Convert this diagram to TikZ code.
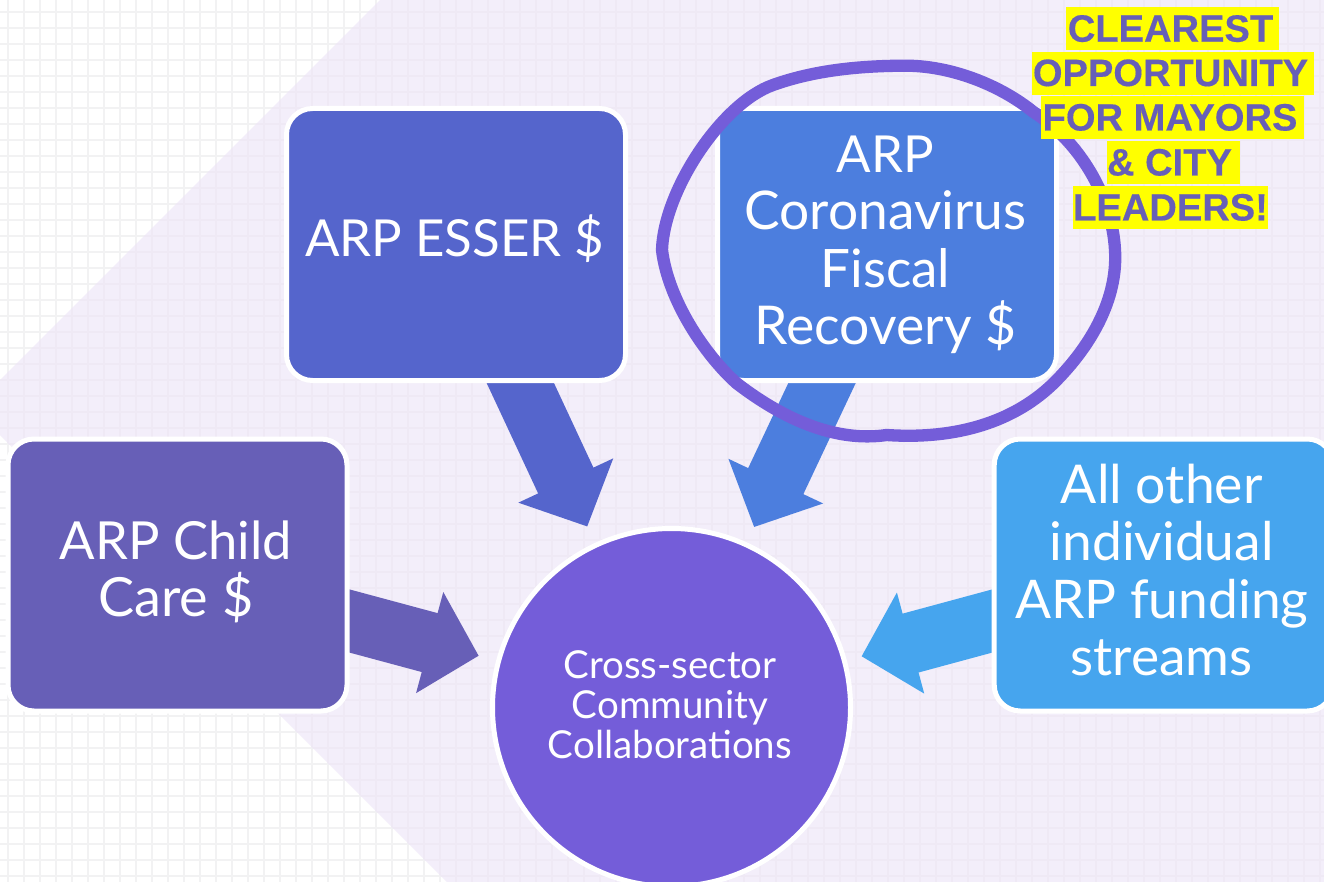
\documentclass[tikz,border=0pt]{standalone}
\usepackage{fontspec}
\setmainfont{Lato}
\newfontfamily\hlfont{Liberation Sans}[BoldFont={Liberation Sans Bold},BoldFeatures={FakeBold=0.3}]
\usetikzlibrary{arrows.meta,calc}
\definecolor{cChild}{HTML}{675FB7}
\definecolor{cEsser}{HTML}{5565CC}
\definecolor{cFiscal}{HTML}{4C7EDE}
\definecolor{cOther}{HTML}{46A5EE}
\definecolor{cHub}{HTML}{745DD9}
\definecolor{cLav}{HTML}{F3EEFA}
\definecolor{cGridA}{HTML}{F2F2F3}
\definecolor{cGridB}{HTML}{EFE9F5}
\definecolor{cHigh}{HTML}{FFFF00}
\pgfdeclarelayer{paper}
\pgfdeclarelayer{flows}
\pgfsetlayers{paper,flows,main}
\newcommand\fs[2]{{\fontsize{#1}{57.5}\selectfont #2}}
\tikzset{
  fundbox/.style={rectangle,draw=white,line width=5pt,rounded corners=26pt,minimum width=339pt,minimum height=272pt,inner sep=0pt,text=white,align=center,font=\fontsize{51}{57.5}\selectfont},
  hubnode/.style={circle,draw=white,line width=5pt,minimum size=358pt,inner sep=0pt,fill=cHub,text=white,align=center,font=\fontsize{38.5}{40}\selectfont},
  flow/.style={line width=61pt,line cap=butt,-{Triangle[length=50.8pt,width=101.7pt]},shorten >=18.1pt,shorten <=-30pt},
  hl/.style={anchor=base,fill=cHigh,text=cChild,inner ysep=0pt,inner xsep=0pt,text height=34.4pt,text depth=8.6pt,font=\hlfont\bfseries\fontsize{38.1}{43}\selectfont},
}
\begin{document}
\begin{tikzpicture}[x=1pt,y=-1pt]
\useasboundingbox (0,0) rectangle (1324,882);
\begin{pgfonlayer}{paper}
\fill[white] (0,0) rectangle (1324,882);
\foreach \k in {0,...,82} \draw[cGridA,line width=2pt] ({8+16*\k},0) -- ({8+16*\k},882);
\foreach \k in {0,...,54} \draw[cGridA,line width=2pt] (0,{12+16*\k}) -- (1324,{12+16*\k});
\begin{scope}
  \clip (380,0) -- (1324,0) -- (1324,882) -- (447,882) -- (0,435) -- (0,380) -- cycle;
  \fill[cLav] (0,0) rectangle (1324,882);
  \foreach \k in {0,...,82} \draw[cGridB,line width=2pt] ({8+16*\k},0) -- ({8+16*\k},882);
  \foreach \k in {0,...,54} \draw[cGridB,line width=2pt] (0,{12+16*\k}) -- (1324,{12+16*\k});
\end{scope}
\end{pgfonlayer}

\clip (0,0) rectangle (1324,882);
\node[hubnode,text depth=6pt] (hub) at (671.5,707.5) {\kern-3pt Cross-sector\\\kern-3pt Community\\\kern-3pt Collaborations};
\node[fundbox,fill=cChild,text depth=13pt] (child) at (177.5,575) {\kern-3pt\fs{52.5}{ARP Child}\\\kern-3pt\fs{54}{Care \$}};
\node[fundbox,fill=cEsser,text depth=18pt] (esser) at (456,244.5) {\kern-3pt ARP ESSER \$};
\node[fundbox,fill=cFiscal,text depth=9pt] (fiscal) at (887,244.5) {\kern-3pt ARP\\\kern-3pt\fs{53.3}{Coronavirus}\\\kern-3pt\fs{53}{Fiscal}\\\kern-3pt\fs{53.5}{Recovery \$}};
\node[fundbox,fill=cOther,text depth=10pt] (other) at (1163.7,575) {\kern-4pt\fs{53.5}{All other}\\\kern-4pt\fs{53.3}{individual}\\\kern-4pt\fs{53.3}{ARP funding}\\\kern-4pt\fs{53.3}{streams}};

\begin{pgfonlayer}{flows}
\draw[flow,draw=cChild,fill=cChild] (child) -- (hub);
\draw[flow,draw=cEsser,fill=cEsser] (esser) -- (hub);
\draw[flow,draw=cFiscal,fill=cFiscal,shorten >=199.5pt] (fiscal) -- ([xshift=-2.5pt]hub.center);
\draw[flow,draw=cOther,fill=cOther,shorten >=15.3pt] (other) -- (hub);
\end{pgfonlayer}

\draw[cHub,line width=12.3pt,line join=round]
 (662,250) .. controls (664,190) and (722,103) .. (773,85)
 .. controls (815,70) and (860,66) .. (903,65.7)
 .. controls (950,65) and (1000,85) .. (1033,111.7)
 .. controls (1078,140) and (1112,195) .. (1115,250)
 .. controls (1118,300) and (1090,345) .. (1060,376.7)
 .. controls (1020,420) and (960,440) .. (886.7,435)
 .. controls (845,441) and (795,428) .. (736.7,383.3)
 .. controls (705,355) and (668,300) .. (662,250) -- cycle;

\node[hl,minimum width=213pt] (hlA) at (1172.5,41.7) {CLEAREST\kern4pt};
\node[hl,minimum width=282pt] (hlB) at (1173,86) {OPPORTUNITY\kern5pt};
\node[hl,minimum width=263pt] (hlC) at (1172.5,130.5) {FOR MAYORS\kern5pt};
\node[hl,minimum width=133pt] (hlD) at (1173.5,175.5) {\& CITY\kern8pt};
\node[hl,minimum width=195pt] (hlE) at (1170.5,220.5) {LEADERS!};
\end{tikzpicture}
\end{document}
